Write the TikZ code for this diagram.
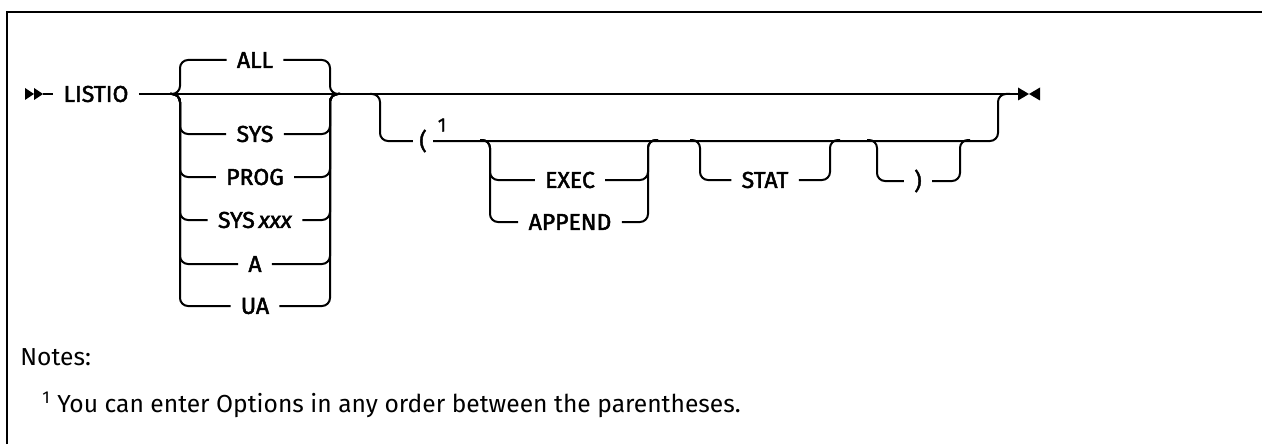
\documentclass[tikz,border=0pt]{standalone}
\usepackage{fontspec}
\setmainfont{Fira Sans}
\setsansfont{Fira Sans}
\newfontfamily\kwfont{Fira Sans}[FakeBold=2]
\usetikzlibrary{positioning, calc}
\tikzset{
    rail/.style = {line width=1pt, rounded corners=4pt},
    keyword/.style = {font=\kwfont\fontsize{11.5}{12}\selectfont, inner xsep=5pt, inner ysep=1pt},
    notemark/.style = {font=\kwfont\fontsize{9.5}{10}\selectfont, inner sep=0pt},
    notetext/.style = {font=\sffamily\fontsize{12.3}{14}\selectfont, inner sep=0pt, anchor=west},
    tip/.style = {fill=black}
}
\begin{document}
\begin{tikzpicture}[x=0.5pt, y=-0.5pt]
\useasboundingbox (0,0) rectangle (1262,444);

% frame
\draw[line width=1pt] (7,444) -- (7,12) -- (1262,12);

% start and end of the main line
\coordinate (s1) at (43,94);
\coordinate (endpt) at (1018,94);
\fill[tip] (25,88) -- (34,94) -- (25,100) -- cycle;
\fill[tip] (34,88) -- (43,94) -- (34,100) -- cycle;
\fill[tip] (1018,87.5) -- (1029,94) -- (1018,100.5) -- cycle;
\fill[tip] (1040,87.5) -- (1029,94) -- (1040,100.5) -- cycle;

\node[keyword] (listio) at (96,94) {LISTIO};
\draw[rail] (s1) -- (listio.west);
\draw[rail] (listio.east) -- (endpt);

% first choice
\coordinate (g1in) at (170,94);
\coordinate (g1out) at (340,94);
\foreach \name/\txt/\yy in {all/ALL/60, sys/SYS/134, prog/PROG/177, sysx/{SYS\,\textit{xxx}}/220, a/A/264, ua/UA/306} {
    \node[keyword] (\name) at (255,\yy) {\txt};
    \draw[rail] (g1in) -- ++(10,0) |- (\name.west);
    \draw[rail] (g1out) -- ++(-10,0) |- (\name.east);
}

% options in parentheses
\coordinate (g2in) at (370,94);
\coordinate (g2out) at (1010,94);
\node[keyword, inner xsep=3pt] (lparen) at (423,141) {(};
\node[notemark] (mark1) at (442,125) {1};
\draw[rail] (g2in) -- ++(10,0) |- (lparen.west);
\draw[rail] (g2out) -- ++(-12,0) |- (lparen.east);

\coordinate (g3in) at (480,140);
\coordinate (g3out) at (658,140);
\node[keyword] (exec) at (570,180) {EXEC};
\node[keyword] (append) at (570,222) {APPEND};
\foreach \name in {exec, append} {
    \draw[rail] (g3in) -- ++(10,0) |- (\name.west);
    \draw[rail] (g3out) -- ++(-10,0) |- (\name.east);
}

\coordinate (g4in) at (690,140);
\coordinate (g4out) at (840,140);
\node[keyword] (stat) at (765,180) {STAT};
\draw[rail] (g4in) -- ++(10,0) |- (stat.west);
\draw[rail] (g4out) -- ++(-10,0) |- (stat.east);

\coordinate (g5in) at (867,140);
\coordinate (g5out) at (970,140);
\node[keyword] (rparen) at (918,181) {)};
\draw[rail] (g5in) -- ++(10,0) |- (rparen.west);
\draw[rail] (g5out) -- ++(-10,0) |- (rparen.east);

% notes
\node[notetext] (notes) at (20,357) {Notes:};
\node[notetext] (fn) at (42,405) {\textsuperscript{1} You can enter Options in any order between the parentheses.};
\end{tikzpicture}
\end{document}
